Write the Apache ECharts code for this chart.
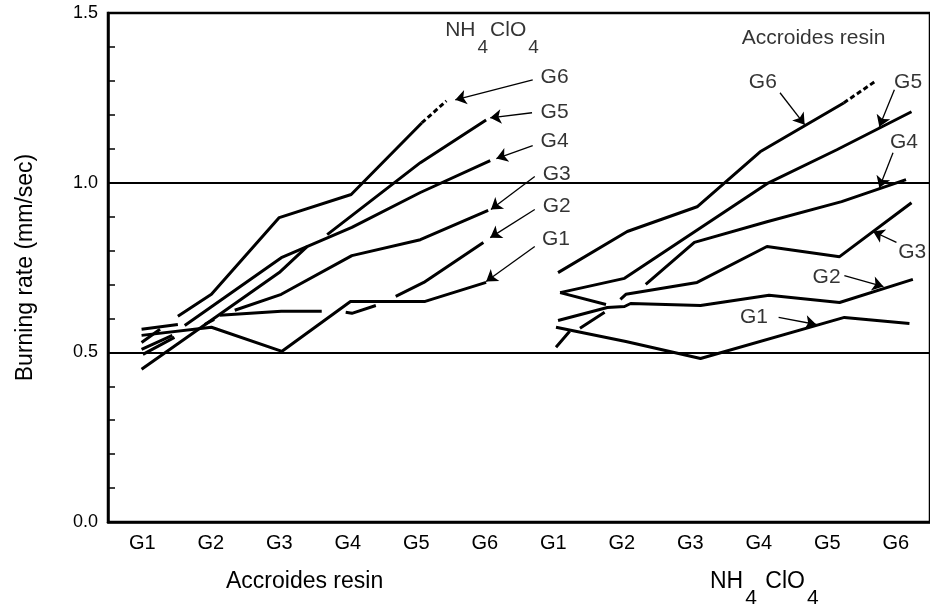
<!DOCTYPE html>
<html>
<head>
<meta charset="utf-8">
<script src="https://cdn.jsdelivr.net/npm/echarts@6.0.0/dist/echarts.min.js"></script>
<style>
  html, body { margin: 0; padding: 0; background: #fff; }
  #main { width: 930px; height: 605px; }
</style>
</head>
<body>
<div id="main"></div>
<script>
// tick labels along the bottom: resin grades, then NH4ClO4 grades
const tickLabels = ['G1', 'G2', 'G3', 'G4', 'G5', 'G6', 'G1', 'G2', 'G3', 'G4', 'G5', 'G6'];

// left half: x = Accroides resin grade, one line per NH4ClO4 grade
// points are [x, rate]; '-' breaks the line where the original leaves a gap
const leftG1 = [[0.99, 0.55], [2.01, 0.574], [3.04, 0.503], [4.04, 0.65], [5.13, 0.65], [6.02, 0.706]];
const leftG2 = [[0.99, 0.568], [1.52, 0.582], '-', [2.13, 0.609], [3.03, 0.621], [3.62, 0.621], '-',
  [3.97, 0.618], [4.06, 0.615], [4.41, 0.638], '-', [4.70, 0.665], [5.11, 0.706], [5.98, 0.824]];
const leftG3 = [[0.99, 0.509], [1.44, 0.55], '-', [1.91, 0.582], [2.05, 0.597], '-',
  [2.35, 0.624], [3.03, 0.671], [4.06, 0.785], [5.06, 0.832], [6.05, 0.918]];
const leftG4 = [[1.01, 0.494], [1.47, 0.544], '-', [1.62, 0.579], [3.03, 0.779], [4.06, 0.868],
  [5.06, 0.971], [6.08, 1.065]];
const leftG5 = [[0.99, 0.45], [3.0, 0.735], [3.41, 0.812], '-', [3.70, 0.847], [5.06, 1.059], [6.02, 1.185]];
const leftG6 = [[0.99, 0.529], [1.26, 0.568], '-', [1.52, 0.606], [2.01, 0.671], [3.0, 0.897],
  [4.05, 0.965], [5.08, 1.176]];
const leftG6Dash = [[5.08, 1.176], [5.44, 1.241]];

// right half: x = NH4ClO4 grade, one line per resin grade
const rightG1 = [[7.04, 0.574], [8.06, 0.532], [9.15, 0.482], [11.25, 0.603], [12.2, 0.585]];
const rightG2 = [[7.07, 0.594], [7.79, 0.632], [8.04, 0.635], [8.13, 0.644], [9.15, 0.638],
  [10.15, 0.668], [11.18, 0.647], [12.25, 0.715]];
const rightG3 = [[7.1, 0.676], [7.77, 0.641], '-', [7.98, 0.656], [8.06, 0.671], [9.1, 0.706],
  [10.12, 0.812], [11.18, 0.782], [12.23, 0.941]];
const rightG4 = [[7.04, 0.515], [7.24, 0.562], '-', [7.39, 0.571], [7.75, 0.618], '-',
  [8.35, 0.70], [9.06, 0.824], [10.12, 0.885], [11.21, 0.944], [12.15, 1.009]];
const rightG5 = [[7.1, 0.676], [8.04, 0.718], [10.12, 0.997], [11.14, 1.097], [12.23, 1.209]];
const rightG6 = [[7.07, 0.735], [8.08, 0.856], [9.1, 0.929], [10.02, 1.091], [11.24, 1.235]];
const rightG6Dash = [[11.24, 1.235], [11.69, 1.297]];

// reference rates drawn across the plot
const refLines = [0.5, 1.0];

// callout texts and their arrows (data coordinates)
const calloutText = ['G6', 'G5', 'G4', 'G3', 'G2', 'G1', 'G6', 'G5', 'G4', 'G3', 'G2', 'G1'];
const calloutPos = [[7.02, 1.312], [7.02, 1.209], [7.02, 1.121], [7.05, 1.026], [7.05, 0.932], [7.04, 0.832],
  [10.06, 1.297], [12.18, 1.297], [12.12, 1.118], [12.24, 0.794], [10.99, 0.721], [9.93, 0.603]];
const arrowFrom = [[6.70, 1.303], [6.69, 1.206], [6.70, 1.109], [6.73, 1.018], [6.73, 0.921], [6.73, 0.812],
  [10.31, 1.265], [11.98, 1.274], [11.96, 1.088], [12.01, 0.824], [11.25, 0.726], [10.29, 0.603]];
const arrowTo = [[5.57, 1.244], [6.08, 1.191], [6.17, 1.071], [6.09, 0.921], [6.08, 0.838], [6.02, 0.709],
  [10.67, 1.171], [11.76, 1.165], [11.76, 0.985], [11.67, 0.856], [11.82, 0.694], [10.84, 0.582]];

const titleText = ['NH{s|4}ClO{s|4}', 'Accroides resin'];
const titlePos = [[6.12, 1.45], [10.8, 1.426]];

const FONT = 'Liberation Sans';

function curve(points, dashed) {
  return {
    type: 'line',
    xAxisIndex: 1,
    data: points,
    showSymbol: false,
    connectNulls: false,
    silent: true,
    lineStyle: { color: '#000', width: 3, type: dashed ? [5, 3] : 'solid', cap: 'butt' }
  };
}

const curves = [leftG1, leftG2, leftG3, leftG4, leftG5, leftG6, rightG1, rightG2, rightG3, rightG4, rightG5, rightG6];

const series = curves.map(c => curve(c, false));
series.push(curve(leftG6Dash, true));
series.push(curve(rightG6Dash, true));

// horizontal reference lines
series.push({
  type: 'line',
  xAxisIndex: 1,
  data: [],
  silent: true,
  markLine: {
    silent: true,
    symbol: 'none',
    label: { show: false },
    lineStyle: { color: '#000', width: 2, type: 'solid' },
    data: refLines.map(v => ({ yAxis: v }))
  }
});

// arrows
series.push({
  type: 'lines',
  coordinateSystem: 'cartesian2d',
  xAxisIndex: 1,
  yAxisIndex: 0,
  silent: true,
  symbol: ['none', 'arrow'],
  symbolSize: 11,
  lineStyle: { color: '#000', width: 1.3, opacity: 1 },
  data: arrowFrom.map((f, i) => ({ coords: [f, arrowTo[i]] }))
});

// callout labels
series.push({
  type: 'scatter',
  xAxisIndex: 1,
  silent: true,
  symbolSize: 1,
  itemStyle: { color: 'transparent' },
  label: { show: true, position: 'inside', formatter: '{b}', color: '#000', fontSize: 21, fontFamily: FONT },
  data: calloutText.map((t, i) => ({ name: t, value: calloutPos[i] }))
});

// titles inside the plot
series.push({
  type: 'scatter',
  xAxisIndex: 1,
  silent: true,
  symbolSize: 1,
  itemStyle: { color: 'transparent' },
  label: {
    show: true, position: 'inside', formatter: '{b}', color: '#000', fontSize: 21, fontFamily: FONT,
    rich: { s: { fontSize: 19, fontFamily: FONT, color: '#000', padding: [36, 2, 0, 2] } }
  },
  data: titleText.map((t, i) => ({ name: t, value: titlePos[i] }))
});

const option = {
  animation: false,
  backgroundColor: '#fff',
  textStyle: { fontFamily: FONT },
  grid: {
    left: 108, top: 13, width: 826, bottom: 83,
    show: true, borderColor: '#000', borderWidth: 2.5
  },
  xAxis: [
    {
      type: 'category',
      data: tickLabels,
      boundaryGap: true,
      axisLine: { lineStyle: { color: '#000', width: 2.5 } },
      axisTick: { inside: true, alignWithLabel: true, length: 6, lineStyle: { color: '#000', width: 1.5 } },
      axisLabel: { color: '#000', fontSize: 20, fontFamily: FONT, margin: 11 },
      splitLine: { show: false }
    },
    { type: 'value', min: 0.5, max: 12.5, show: false, splitLine: { show: false } }
  ],
  yAxis: {
    type: 'value',
    min: 0,
    max: 1.5,
    interval: 0.1,
    name: 'Burning rate (mm/sec)',
    nameLocation: 'middle',
    nameGap: 71,
    nameTextStyle: { color: '#000', fontSize: 23, fontFamily: FONT },
    axisLine: { show: true, lineStyle: { color: '#000', width: 2.5 } },
    axisTick: { show: true, inside: true, length: 7, lineStyle: { color: '#000', width: 1.5 } },
    axisLabel: {
      color: '#000', fontSize: 18, fontFamily: FONT, margin: 10,
      formatter: v => (Math.abs(v * 2 - Math.round(v * 2)) < 1e-6 ? v.toFixed(1) : '')
    },
    splitLine: { show: false }
  },
  graphic: [
    {
      type: 'text', left: 226, top: 570,
      style: { text: 'Accroides resin', font: '23px "Liberation Sans"', fill: '#000' }
    },
    {
      type: 'text', left: 710, top: 570,
      style: {
        text: 'NH{s|4} ClO{s|4}', font: '23px "Liberation Sans"', fill: '#000',
        rich: { s: { fontSize: 21, fontFamily: FONT, fill: '#000', padding: [34, 2, 0, 2] } }
      }
    }
  ],
  series: series
};

const chart = echarts.init(document.getElementById('main'));
chart.setOption(option);
</script>
</body>
</html>
